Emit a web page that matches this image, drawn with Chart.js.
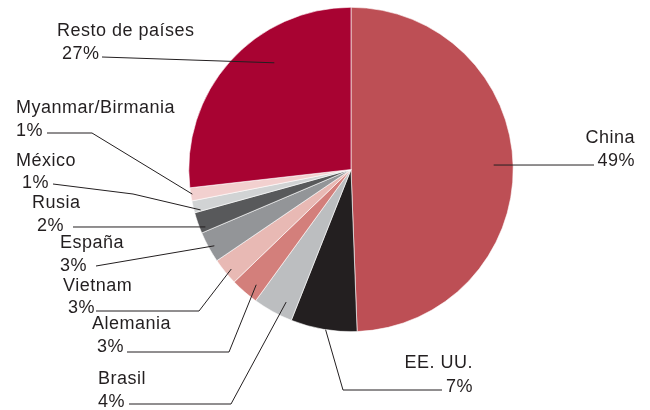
<!DOCTYPE html>
<html>
<head>
<meta charset="utf-8">
<script src="https://cdn.jsdelivr.net/npm/chart.js@4"></script>
<style>
  body { margin: 0; background: #fff; }
  #caja { width: 650px; height: 410px; }
</style>
</head>
<body>
<div id="caja"><canvas id="grafico"></canvas></div>
<script>
const paises = ["China", "EE. UU.", "Brasil", "Alemania", "Vietnam", "España", "Rusia", "México", "Myanmar/Birmania", "Resto de países"];
const porcentajes = [49.4, 6.6, 4.0, 2.8, 2.7, 3.1, 2.1, 1.2, 1.3, 26.8];
const colores = ["#bd4f55", "#231f20", "#bcbec0", "#d37f7b", "#e8b9b4", "#939598", "#58595b", "#d1d3d4", "#f2d0cf", "#a80332"];

// posiciones de los textos y de las líneas guía (una entrada por país)
const rotulos = [
  { align: "right", x: [635, 635], y: [143, 166], guia: [[594, 165]], frac: 0.496, rad: 0.88 },
  { align: "right", x: [473, 473], y: [368, 392], guia: [[442, 390], [343, 390]], frac: 0.47, rad: 1.0 },
  { align: "left", x: [98, 98], y: [384, 407], guia: [[129, 404], [231, 404]], frac: 0.31, rad: 0.91 },
  { align: "left", x: [92, 97], y: [329, 352], guia: [[127, 352], [229, 352]], frac: 0.34, rad: 0.92 },
  { align: "left", x: [63, 68], y: [291, 313], guia: [[96, 311], [199, 311]], frac: 0.43, rad: 0.96 },
  { align: "left", x: [60, 60], y: [248, 271], guia: [[96, 266]], frac: 0.45, rad: 0.965 },
  { align: "left", x: [32, 37], y: [208, 231], guia: [[73, 227]], frac: 0.2, rad: 0.965 },
  { align: "left", x: [16, 22], y: [166, 188], guia: [[53, 184], [133, 194]], frac: 0.1, rad: 0.96 },
  { align: "left", x: [16, 16], y: [113, 136], guia: [[47, 133], [92, 133]], frac: 0.5, rad: 0.99 },
  { align: "left", x: [57, 62], y: [36, 59], guia: [[102, 57]], frac: 0.63, rad: 0.81 },
];

const pluginRotulos = {
  id: "rotulos",
  afterDraw(chart) {
    const ctx = chart.ctx;
    const arcos = chart.getDatasetMeta(0).data;
    ctx.save();
    ctx.font = '18px "Liberation Sans", Arial, sans-serif';
    ctx.letterSpacing = "0.5px";
    ctx.fillStyle = "#231f20";
    ctx.strokeStyle = "#231f20";
    ctx.lineWidth = 1;
    rotulos.forEach((r, i) => {
      const arco = arcos[i];
      const ang = arco.startAngle + (arco.endAngle - arco.startAngle) * r.frac;
      const ax = arco.x + Math.cos(ang) * arco.outerRadius * r.rad;
      const ay = arco.y + Math.sin(ang) * arco.outerRadius * r.rad;
      ctx.beginPath();
      ctx.moveTo(r.guia[0][0], r.guia[0][1]);
      r.guia.slice(1).forEach((p) => ctx.lineTo(p[0], p[1]));
      ctx.lineTo(ax, ay);
      ctx.stroke();

      ctx.textAlign = r.align;
      ctx.textBaseline = "alphabetic";
      ctx.fillText(paises[i], r.x[0], r.y[0]);
      ctx.fillText(Math.round(porcentajes[i]) + "%", r.x[1], r.y[1]);
    });
    ctx.restore();
  },
};

new Chart(document.getElementById("grafico"), {
  type: "pie",
  data: {
    labels: paises,
    datasets: [
      {
        data: porcentajes,
        backgroundColor: colores,
        borderColor: "#ffffff",
        borderWidth: 0.6,
      },
    ],
  },
  options: {
    responsive: true,
    maintainAspectRatio: false,
    animation: false,
    layout: { padding: { left: 188.5, right: 136.5, top: 7, bottom: 78 } },
    plugins: {
      legend: { display: false },
      tooltip: { enabled: false },
    },
  },
  plugins: [pluginRotulos],
});
</script>
</body>
</html>
